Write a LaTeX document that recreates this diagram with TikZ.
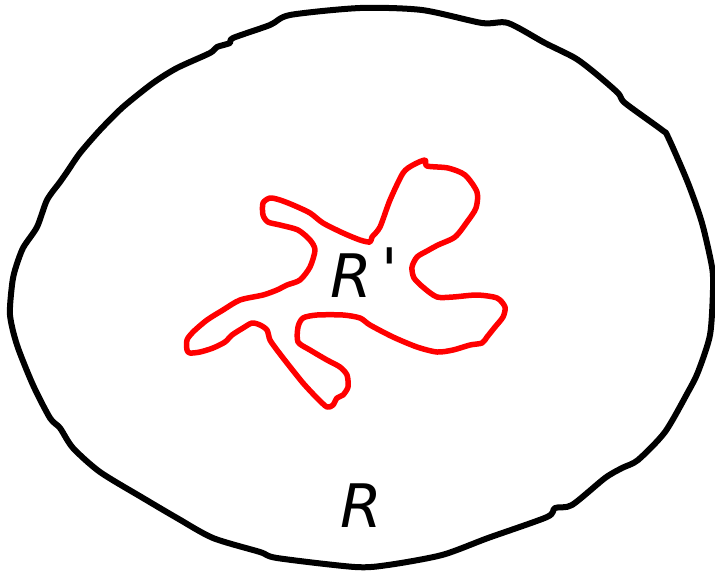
\documentclass[tikz,border=0pt]{standalone}
\usepackage{fontspec}
\newfontfamily\handfont{DejaVu Sans}
\begin{document}
\begin{tikzpicture}[x=1pt,y=-1pt,
  outer/.style={draw=black,line width=6pt,line join=round},
  inner/.style={draw=red,line width=5.5pt,line join=round},
  lbl/.style={font=\handfont\itshape\fontsize{60}{60}\selectfont,inner sep=0pt}]
\useasboundingbox (0,0) rectangle (715,574);
% outer region R
\draw[outer] plot[smooth cycle,tension=0.45] coordinates {
(290,15) (360,8) (422,10) (482,23) (508,23) (545,43) (575,58) (595,73)
(618,93) (625,103) (662,130) (668,137) (688,183) (702,223) (712,267)
(713,290) (710,335) (698,372) (688,392) (665,432) (638,460) (622,468)
(605,478) (572,505) (555,508) (547,517) (488,538) (442,555) (388,565)
(355,567) (277,558) (260,552) (213,538) (177,518) (143,498) (100,472)
(73,448) (60,428) (50,418) (33,385) (17,345) (10,315) (12,285) (15,270)
(23,248) (37,227) (47,200) (60,182) (67,172) (80,153) (100,130) (123,107)
(153,83) (177,68) (210,53) (217,47) (230,43) (233,38) (270,25)};
% inner region R'
\draw[inner] plot[smooth cycle,tension=0.45] coordinates {
(425,160) (427,166) (448,168) (465,175) (477,192) (476,208) (467,222)
(455,237) (438,245) (427,251) (417,257) (412,267) (414,278) (424,288)
(437,297) (453,297) (477,295) (497,298) (505,307) (503,317) (495,327)
(487,337) (482,343) (470,345) (453,350) (437,352) (417,347) (393,337)
(370,325) (360,318) (343,315) (317,315) (303,318) (298,327) (298,342)
(310,350) (327,360) (340,367) (347,375) (348,387) (343,395) (337,398)
(333,405) (327,407) (317,398) (303,383) (287,363) (277,350) (270,340)
(267,330) (260,325) (252,323) (243,328) (232,335) (225,342) (213,348)
(200,352) (190,353) (187,350) (187,340) (193,332) (207,320) (223,310)
(240,300) (263,295) (277,290) (287,285) (300,280) (310,267) (315,250)
(310,240) (298,230) (280,225) (268,222) (263,215) (263,203) (270,198)
(280,200) (293,205) (310,213) (323,223) (343,233) (360,240) (370,242)
(372,237) (380,227) (390,200) (403,173) (413,165)};
\node[lbl,anchor=base west] (rp) at (330,297) {R\kern10pt\raisebox{6pt}{\symbol{"27}}};
\node[lbl,anchor=base west] (r) at (340,527) {R};
\end{tikzpicture}
\end{document}
